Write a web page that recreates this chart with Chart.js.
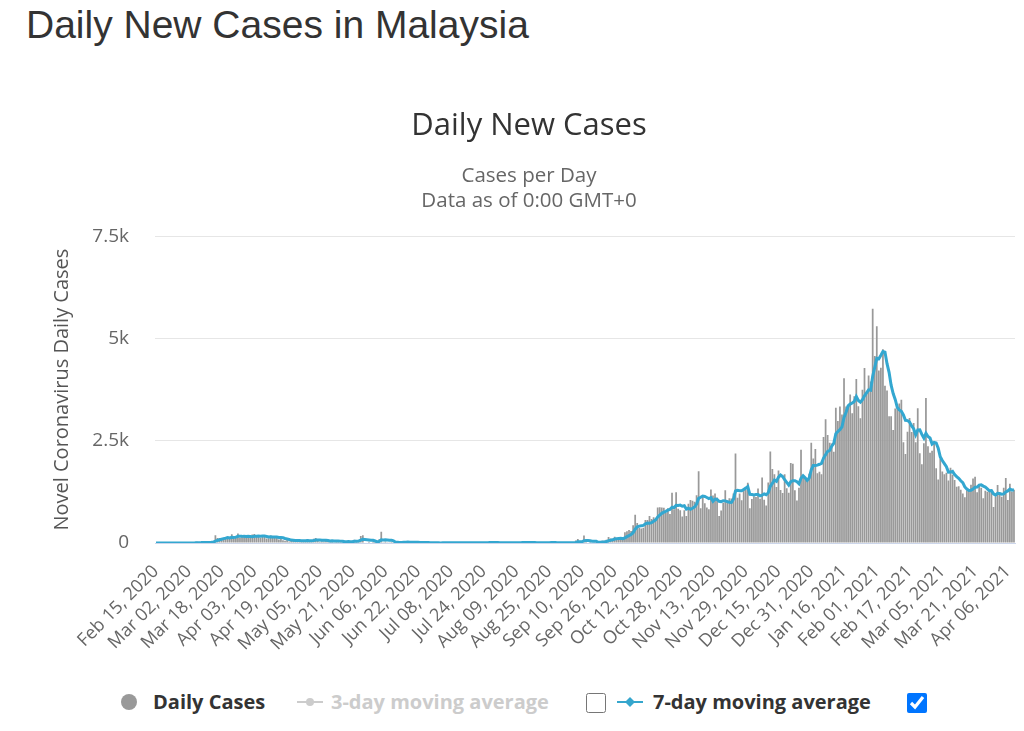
<!DOCTYPE html>
<html>
<head>
<meta charset="utf-8">
<title>Daily New Cases in Malaysia</title>
<script src="https://cdn.jsdelivr.net/npm/chart.js@4.4.1/dist/chart.umd.min.js"></script>
<style>
  body { margin: 0; background: #fff; width: 1024px; height: 731px; overflow: hidden; position: relative; font-family: "Open Sans", sans-serif; }
  h1 { position: absolute; left: 26px; top: 4px; margin: 0; font: normal 39px/42px "Liberation Sans", Arial, sans-serif; color: #333; }
  #box { position: absolute; left: 43px; top: 100px; width: 981px; height: 580px; }
  .lg { position: absolute; top: 689px; height: 26px; line-height: 26px; font-size: 20px; font-weight: bold; color: #333; white-space: nowrap; }
  .lg.off { color: #ccc; }
  .dot { position: absolute; left: 121px; top: 694px; width: 16px; height: 16px; border-radius: 50%; background: #999; }
  .ico { position: absolute; top: 692px; }
  input[type=checkbox] { position: absolute; margin: 0; width: 20px; height: 20px; top: 693px; }
</style>
</head>
<body>
<h1>Daily New Cases in Malaysia</h1>
<div id="box"><canvas id="chart"></canvas></div>

<span class="dot"></span>
<span class="lg" style="left:153px">Daily Cases</span>
<svg class="ico" style="left:297px" width="26" height="20"><line x1="0" y1="10" x2="26" y2="10" stroke="#ccc" stroke-width="2"/><circle cx="13" cy="10" r="4" fill="#ccc"/></svg>
<span class="lg off" style="left:331px">3-day moving average</span>
<input type="checkbox" style="left:586px">
<svg class="ico" style="left:617px" width="26" height="20"><line x1="0" y1="10" x2="26" y2="10" stroke="#35a6cd" stroke-width="2"/><path d="M13 5 L18 10 L13 15 L8 10 Z" fill="#35a6cd"/></svg>
<span class="lg" style="left:653px">7-day moving average</span>
<input type="checkbox" checked style="left:907px">

<script>
// daily new cases, Feb 15 2020 .. Apr 09 2021
const dailyCases = [
  0,0,0,0,0,0,0,0,0,0,0,0,2,0,0, // Feb 2020 (from 15th)
  0,0,7,14,5,28,10,6,18,12,20,9,39,41,190,125,120,117,110,130,153,123,212,106,172,235,130,159,150,156,140, // Mar
  142,208,217,150,179,131,170,156,109,118,184,153,134,170,85,110,69,54,84,36,57,50,71,88,51,38,40,31,94,57, // Apr
  69,105,122,55,30,45,39,68,54,67,70,16,37,40,36,17,22,47,37,31,50,78,48,60,172,187,15,10,30,15,38, // May
  57,20,93,277,19,37,19,7,2,8,31,19,7,6,41,27,25,10,10,21,11,22,8,4,15,6,3,2,3,3, // Jun
  3,7,2,8,5,3,1,6,6,3,6,13,3,9,6,10,7,4,5,10,5,5,7,15,8,9,23,13,3,6,7, // Jul
  2,4,10,4,4,7,2,13,6,7,14,25,20,12,3,12,9,1,3,4,6,9,7,15,18,8,5,7,5,4,7, // Aug
  8,6,9,4,9,5,62,100,11,24,182,26,10,33,13,7,21,14,12,52,57,82,147,111,82,150,115,101,89,89, // Sep
  260,287,317,293,432,691,489,374,354,373,561,563,660,589,629,589,869,871,865,862,732,847,710,1228,823,1240,835,801,649,799,659, // Oct
  957,1054,1032,1009,1168,1755,852,1168,972,869,822,1309,1162,1208,1114,659,792,987,1290,1041,1096,1089,1208,2188,1109,1212,1047,1315,1309,1472, // Nov
  851,1075,1141,1123,1335,1082,1600,1060,919,1478,2234,1810,1679,1371,1772,1295,1220,1683,1340,1229,1958,1936,1290,1041,1350,2280,1650,1594,1520,1695,2450, // Dec
  2068,2295,1704,1741,1682,2593,3027,2643,2451,2433,2232,3309,2985,3337,3142,4029,3339,3306,3631,3170,3585,4008,3346,3048,3748,4275,3680,4094,3950,5728,4571, // Jan 2021
  5298,4214,4284,4735,3847,3731,3100,3100,2764,3288,3384,3409,3499,2464,2176,2720,3055,2712,2936,2461,3297,2192,1924,2437,3545,2364,2208,2253, // Feb
  2468,1828,1555,2063,1745,1680,1720,1529,1840,1671,1538,1375,1390,1300,1208,1116,1290,1310,1423,1575,1620,1239,1429,1350,1095,1275,1250,1290,1267,880,1136, // Mar
  1420,1226,1130,1349,1590,1050,1450,1250,1300 // Apr
];

// 7-day moving average, same days
const avg7Cases = [
  0,0,0,0,0,0,0,0,0,0,0,0,0,0,0,
  0,0,1,3,4,8,9,10,13,13,14,15,16,21,47,62,78,92,106,119,135,125,138,136,144,162,162,162,166,158,163,
  159,155,167,166,170,167,171,173,159,145,150,146,146,146,136,136,129,111,101,87,71,66,60,63,62,56,56,53,59,57,
  54,62,74,76,76,69,66,66,59,51,53,51,50,50,46,40,34,31,34,33,34,40,45,50,68,89,87,81,75,70,67,
  50,26,38,76,74,77,75,67,65,53,18,18,13,11,16,20,22,19,18,20,21,18,15,12,13,12,10,9,6,5,
  5,4,3,4,4,4,4,5,4,5,4,5,5,7,7,7,8,7,6,7,7,7,6,7,8,8,10,11,11,11,10,
  9,8,6,5,5,5,5,6,7,6,8,11,12,14,12,13,14,12,9,6,5,6,6,6,9,10,10,10,9,9,8,
  6,6,7,6,7,7,15,28,29,31,56,59,59,55,43,42,42,18,16,22,25,35,55,68,78,97,106,113,114,105,
  127,156,180,205,252,338,396,412,421,429,468,486,482,496,533,566,637,681,725,753,774,805,822,874,867,920,916,926,898,911,829,
  849,822,850,880,954,1091,1118,1148,1137,1113,1087,1107,1022,1073,1065,1020,1009,1033,1030,1013,997,993,1072,1271,1289,1278,1278,1310,1341,1379,
  1188,1183,1173,1184,1187,1154,1172,1202,1180,1228,1387,1455,1540,1507,1609,1663,1626,1547,1480,1416,1500,1523,1522,1497,1449,1583,1644,1592,1532,1590,1791,
  1894,1896,1904,1925,1948,2076,2159,2241,2263,2367,2437,2670,2726,2770,2841,3067,3196,3350,3396,3422,3458,3581,3484,3442,3505,3597,3670,3743,3735,4075,4292,
  4514,4505,4591,4683,4668,4383,4173,3859,3652,3509,3316,3254,3221,3130,2998,2992,2958,2862,2795,2646,2765,2768,2654,2566,2685,2603,2567,2418,
  2457,2443,2317,2106,2017,1942,1866,1732,1733,1750,1675,1622,1581,1521,1475,1371,1317,1284,1291,1318,1363,1368,1412,1421,1390,1369,1323,1276,1280,1201,1171,
  1217,1210,1193,1201,1247,1272,1317,1292,1303
];

const tickLabels = [
  'Feb 15, 2020','Mar 02, 2020','Mar 18, 2020','Apr 03, 2020','Apr 19, 2020','May 05, 2020',
  'May 21, 2020','Jun 06, 2020','Jun 22, 2020','Jul 08, 2020','Jul 24, 2020','Aug 09, 2020',
  'Aug 25, 2020','Sep 10, 2020','Sep 26, 2020','Oct 12, 2020','Oct 28, 2020','Nov 13, 2020',
  'Nov 29, 2020','Dec 15, 2020','Dec 31, 2020','Jan 16, 2021','Feb 01, 2021','Feb 17, 2021',
  'Mar 05, 2021','Mar 21, 2021','Apr 06, 2021'
];
const tickEvery = 16;

const months = ['Jan','Feb','Mar','Apr','May','Jun','Jul','Aug','Sep','Oct','Nov','Dec'];
const dates = [];
for (let i = 0; i < dailyCases.length; i++) {
  const d = new Date(Date.UTC(2020, 1, 15 + i));
  dates.push(months[d.getUTCMonth()] + ' ' + String(d.getUTCDate()).padStart(2, '0') + ', ' + d.getUTCFullYear());
}

const font = 'Open Sans';

new Chart(document.getElementById('chart'), {
  type: 'bar',
  data: {
    labels: dates,
    datasets: [
      {
        type: 'line',
        label: '7-day moving average',
        data: avg7Cases,
        borderColor: '#33a7d0',
        borderWidth: 3,
        pointRadius: 0,
        tension: 0,
        order: 0,
      },
      {
        label: 'Daily Cases',
        data: dailyCases,
        backgroundColor: '#999999',
        barPercentage: 0.85,
        categoryPercentage: 1,
        order: 1,
      },
    ],
  },
  options: {
    responsive: true,
    maintainAspectRatio: false,
    animation: false,
    devicePixelRatio: 1,
    layout: { padding: { left: 0, right: 9, top: 0, bottom: 0 } },
    plugins: {
      legend: { display: false },
      tooltip: { enabled: false },
      title: {
        display: true,
        text: 'Daily New Cases',
        color: '#333',
        font: { family: font, size: 31, weight: 'normal', lineHeight: 1.2 },
        padding: { top: 8, bottom: 18 },
      },
      subtitle: {
        display: true,
        text: ['Cases per Day', 'Data as of 0:00 GMT+0'],
        color: '#666',
        font: { family: font, size: 20.5, lineHeight: 25 / 20.5 },
        padding: { top: 0, bottom: 23 },
      },
    },
    scales: {
      x: {
        grid: { display: false, drawTicks: false },
        border: { display: true, color: '#ccd6eb' },
        ticks: {
          autoSkip: false,
          maxRotation: 45,
          minRotation: 45,
          padding: 18,
          color: '#666',
          font: { family: font, size: 18 },
          callback: (v, i) => (i % tickEvery === 0 ? tickLabels[i / tickEvery] : null),
        },
        afterFit: (s) => {
          s.height = 137;
          s.paddingLeft = 0;
          s.paddingRight = 0;
        },
      },
      y: {
        min: 0,
        max: 7500,
        grid: { color: '#e6e6e6', drawTicks: false },
        border: { display: false },
        ticks: {
          stepSize: 2500,
          padding: 26,
          color: '#666',
          font: { family: font, size: 19 },
          callback: (v) => (v === 0 ? '0' : v / 1000 + 'k'),
        },
        title: {
          display: true,
          text: 'Novel Coronavirus Daily Cases',
          color: '#555',
          font: { family: font, size: 20 },
          padding: { top: 7, bottom: 0 },
        },
        afterFit: (s) => { s.width = 112; },
      },
    },
  },
});
</script>
</body>
</html>
